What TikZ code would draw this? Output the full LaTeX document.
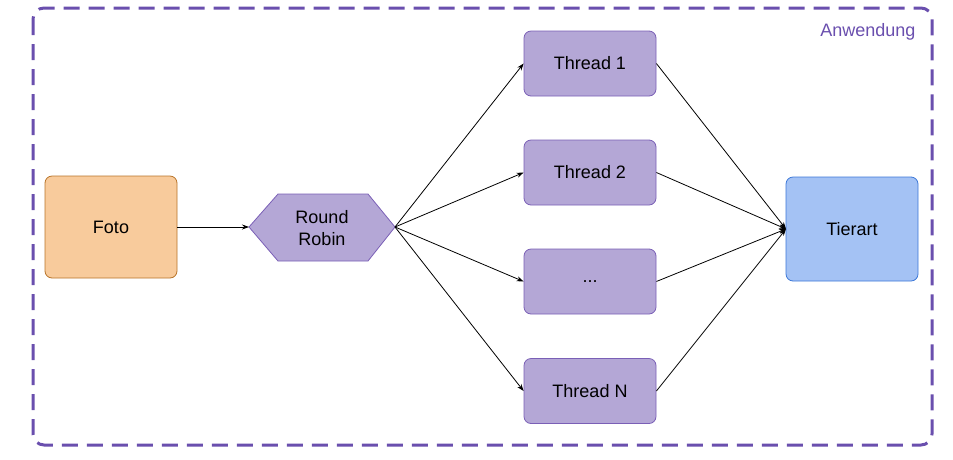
\documentclass[tikz,border=0pt]{standalone}
\usepackage{fontspec}
\setmainfont{Liberation Sans}
\usetikzlibrary{arrows.meta}
\definecolor{frameP}{HTML}{6A4FAE}
\definecolor{threadF}{HTML}{B4A7D6}
\definecolor{threadD}{HTML}{7A5FB6}
\definecolor{fotoF}{HTML}{F8CB9C}
\definecolor{fotoD}{HTML}{B8742A}
\definecolor{tierF}{HTML}{A4C2F4}
\definecolor{tierD}{HTML}{3C78D8}
\tikzset{
  box/.style={draw, rounded corners=7pt, line width=0.8pt, font=\fontsize{18}{21}\selectfont, inner sep=0pt},
  threadbox/.style={box, fill=threadF, draw=threadD, minimum width=132pt, minimum height=65pt},
  conn/.style={draw=black, line width=0.8pt, -{Stealth[length=7pt,width=5pt]}}
}
\begin{document}
\begin{tikzpicture}[x=1pt,y=-1pt]
\useasboundingbox (0,0) rectangle (953,459);
\draw[frameP, line width=3pt, dash pattern=on 16pt off 9pt, rounded corners=11pt] (33,8) rectangle (932,445);
\node[text=frameP, anchor=north east, font=\fontsize{18}{21}\selectfont] (lbl) at (919,20) {Anwendung};
\node[box, fill=fotoF, draw=fotoD, minimum width=132pt, minimum height=102pt] (foto) at (111,227) {\raisebox{-1.5pt}{Foto}};
\path[fill=threadF, draw=threadD, line width=0.8pt] (249,227) -- (278,194) -- (368,194) -- (395,227) -- (368,261) -- (278,261) -- cycle;
\coordinate (rrL) at (249,227);
\coordinate (rrR) at (395,227);
\node[align=center, font=\fontsize{18}{22}\selectfont, inner sep=0pt] (rr) at (322,228) {Round\\Robin};
\node[threadbox] (t1) at (590,63.5) {Thread 1};
\node[threadbox] (t2) at (590,172.5) {Thread 2};
\node[threadbox] (t3) at (590,281.5) {...};
\node[threadbox] (tn) at (590,391) {Thread N};
\node[box, fill=tierF, draw=tierD, minimum width=132pt, minimum height=104pt] (tier) at (852,229) {Tierart};
\coordinate (tierL) at (786,229);
\draw[conn] (foto.east) -- (rrL);
\foreach \t in {t1,t2,t3,tn} {
  \draw[conn] (rrR) -- (\t.west);
  \draw[conn] (\t.east) -- (tierL);
}
\end{tikzpicture}
\end{document}
